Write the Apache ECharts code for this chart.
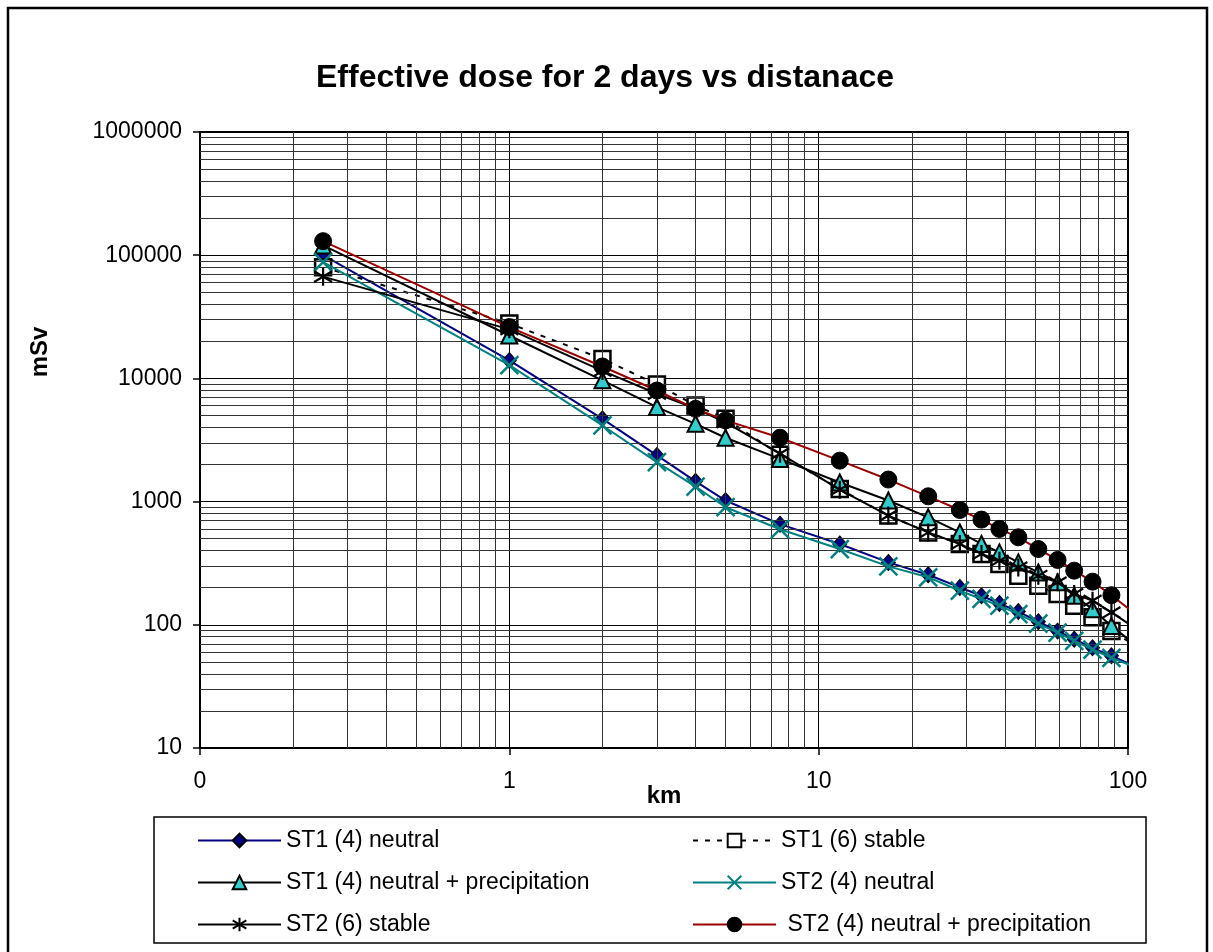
<!DOCTYPE html>
<html>
<head>
<meta charset="utf-8">
<title>Effective dose for 2 days vs distanace</title>
<script src="https://cdn.jsdelivr.net/npm/echarts@6/dist/echarts.min.js"></script>
<style>
  html, body { margin: 0; padding: 0; background: #fff; }
  #chart { width: 1213px; height: 952px; }
</style>
</head>
<body>
<div id="chart"></div>
<script>
// distances in km (last point sits just past the axis end, the line gets clipped there)
const distances = [0.25, 1, 2, 3, 4, 5, 7.5, 11.7, 16.8, 22.6, 28.6, 33.6, 38.4, 44.2, 51.3, 59.2, 67, 76.8, 88.4, 101.7];

// effective dose, mSv
const st1Neutral = [100000, 14000, 4700, 2370, 1460, 1020, 656, 453, 321, 255, 201, 172, 149, 128, 106, 89, 76.5, 65, 56, 48];
const st1Stable = [80000, 27900, 14400, 8940, 6030, 4700, 2400, 1265, 770, 562, 453, 376, 311, 250, 207, 178, 143, 115, 89, 72];
const st1Precip = [120000, 22300, 9640, 5850, 4280, 3300, 2220, 1430, 1020, 745, 562, 453, 387, 321, 266, 221, 172, 134, 98, 74];
const st2Neutral = [88000, 12800, 4150, 2090, 1325, 900, 597, 412, 298, 243, 189, 162, 143, 122, 102, 86.5, 74, 63, 54, 47];
const st2Stable = [67000, 25000, 11500, 7500, 5700, 4400, 2450, 1250, 770, 562, 453, 376, 331, 292, 250, 221, 178, 157, 126, 100];
const st2Precip = [130000, 26100, 12500, 7980, 5660, 4560, 3300, 2150, 1510, 1104, 855, 714, 600, 513, 412, 336, 275, 224, 174, 132];

const seriesNames = [
  'ST1 (4) neutral',
  'ST1 (6) stable',
  'ST1 (4) neutral + precipitation',
  'ST2 (4) neutral',
  'ST2 (6) stable',
  ' ST2 (4) neutral + precipitation'
];

// decade ticks of both log axes
const xTicks = [0.1, 1, 10, 100];
const yTicks = [10, 100, 1000, 10000, 100000, 1000000];

const FONT = '"Liberation Sans", Arial, sans-serif';

// minor log grid lines: 2..9 inside each decade
const minorOf = (ticks) => {
  const out = [];
  ticks.slice(0, -1).forEach((d) => {
    [2, 3, 4, 5, 6, 7, 8, 9].forEach((k) => out.push(k * d));
  });
  return out;
};

const pairs = (values) => distances.map((d, i) => [d, values[i]]);

const lineSeries = (idx, values, color, lineType, symbol, symbolSize, itemStyle) => ({
  name: seriesNames[idx],
  type: 'line',
  data: pairs(values),
  symbol: symbol,
  symbolSize: symbolSize,
  showAllSymbol: true,
  clip: true,
  lineStyle: { color: color, width: 2, type: lineType },
  itemStyle: itemStyle,
  emphasis: { disabled: true },
  z: 3 + idx
});

const chart = echarts.init(document.getElementById('chart'), null, { renderer: 'canvas' });

const legendBase = {
  orient: 'vertical',
  top: 824,
  itemWidth: 83,
  itemHeight: 17,
  itemGap: 19,
  selectedMode: false,
  textStyle: { fontFamily: FONT, fontSize: 23, color: '#000' }
};

const option = {
  backgroundColor: '#fff',
  animation: false,
  title: {
    text: 'Effective dose for 2 days vs distanace',
    left: 311,
    top: 57,
    textStyle: { fontFamily: FONT, fontSize: 32, fontWeight: 'bold', color: '#000' }
  },
  grid: {
    left: 200,
    right: 85,
    top: 132,
    bottom: 204,
    show: true,
    borderColor: '#000',
    borderWidth: 2,
    backgroundColor: '#fff'
  },
  xAxis: {
    type: 'log',
    logBase: 10,
    min: xTicks[0],
    max: xTicks[xTicks.length - 1],
    name: 'km',
    nameLocation: 'middle',
    nameGap: 36,
    nameMoveOverlap: false,
    nameTextStyle: { fontFamily: FONT, fontSize: 24, fontWeight: 'bold', color: '#000' },
    axisLine: { lineStyle: { color: '#000', width: 2 } },
    axisTick: { length: 7, lineStyle: { color: '#000', width: 1.5 } },
    axisLabel: {
      fontFamily: FONT, fontSize: 23, color: '#000', margin: 22,
      formatter: (v) => String(Math.round(v))
    },
    splitLine: { show: true, lineStyle: { color: '#000', width: 1 } }
  },
  yAxis: {
    type: 'log',
    logBase: 10,
    min: yTicks[0],
    max: yTicks[yTicks.length - 1],
    axisLine: { lineStyle: { color: '#000', width: 2 } },
    axisTick: { length: 7, lineStyle: { color: '#000', width: 1.5 } },
    axisLabel: {
      fontFamily: FONT, fontSize: 23, color: '#000', margin: 18,
      formatter: (v) => String(Math.round(v))
    },
    splitLine: { show: true, lineStyle: { color: '#000', width: 1 } }
  },
  legend: [
    Object.assign({}, legendBase, {
      left: 192,
      data: [seriesNames[0], seriesNames[2], seriesNames[4]]
    }),
    Object.assign({}, legendBase, {
      left: 687,
      data: [seriesNames[1], seriesNames[3], seriesNames[5]]
    })
  ],
  graphic: [
    {
      type: 'rect',
      shape: { x: 8, y: 8, width: 1199, height: 960 },
      style: { fill: 'none', stroke: '#000', lineWidth: 2.5 },
      silent: true
    },
    {
      type: 'rect',
      shape: { x: 154, y: 817, width: 992, height: 126 },
      style: { fill: 'none', stroke: '#000', lineWidth: 1.5 },
      silent: true
    },
    {
      type: 'text',
      x: 40,
      y: 352,
      rotation: Math.PI / 2,
      style: {
        text: 'mSv',
        font: 'bold 24px ' + FONT,
        fill: '#000',
        textAlign: 'center',
        textVerticalAlign: 'middle'
      },
      silent: true
    }
  ],
  series: [
    {
      name: 'grid-minor',
      type: 'line',
      data: [],
      silent: true,
      z: 1,
      markLine: {
        silent: true,
        symbol: ['none', 'none'],
        label: { show: false },
        emphasis: { disabled: true },
        lineStyle: { color: '#333', width: 1, type: 'solid' },
        data: minorOf(xTicks).map((v) => ({ xAxis: v }))
          .concat(minorOf(yTicks).map((v) => ({ yAxis: v })))
      }
    },
    lineSeries(0, st1Neutral, '#000080', 'solid', 'diamond', [14, 16],
      { color: '#000080', borderColor: '#000', borderWidth: 1 }),
    lineSeries(1, st1Stable, '#000', [5, 7], 'rect', 16,
      { color: '#fff', borderColor: '#000', borderWidth: 2.5 }),
    lineSeries(2, st1Precip, '#000', 'solid', 'triangle', 16,
      { color: '#33CCCC', borderColor: '#000', borderWidth: 2 }),
    lineSeries(3, st2Neutral, '#008080', 'solid', 'path://M0,0L10,10M10,0L0,10', 18,
      { color: 'none', borderColor: '#008080', borderWidth: 2.5 }),
    lineSeries(4, st2Stable, '#000', 'solid', 'path://M5,0L5,10M0,2L10,8M10,2L0,8', 18,
      { color: 'none', borderColor: '#000', borderWidth: 2.2 }),
    lineSeries(5, st2Precip, '#9B0000', 'solid', 'circle', 17,
      { color: '#000', borderColor: '#000', borderWidth: 1 })
  ]
};

chart.setOption(option);
window.addEventListener('resize', () => chart.resize());
</script>
</body>
</html>
